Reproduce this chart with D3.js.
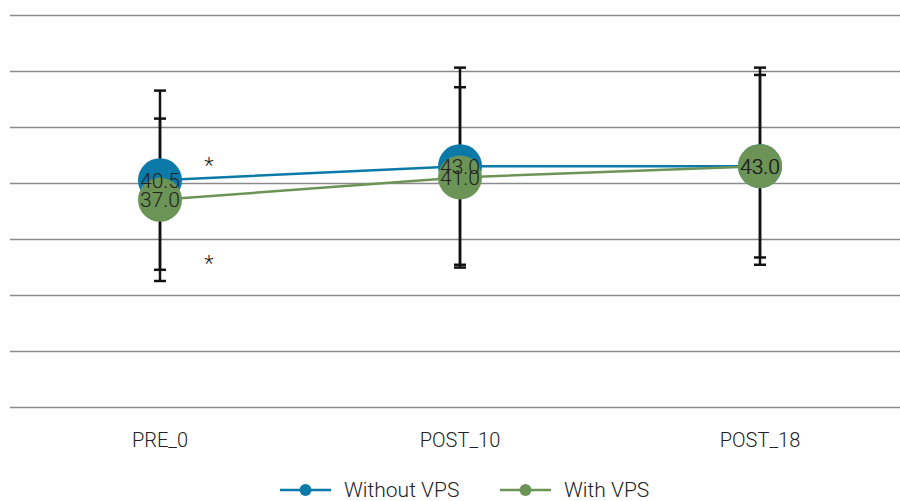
<!DOCTYPE html>
<html lang="en">
<head>
<meta charset="UTF-8">
<title>VPS chart</title>
<style>
    body { margin: 0; background: #fff; }
    svg text { font-family: Roboto, "Noto Sans", sans-serif; font-weight: 300; fill: #222; }
    .grid line { stroke: #8a8a8a; stroke-width: 1.5px; }
    .grid path { display: none; }
    .err { stroke: #111; stroke-width: 2.5px; }
</style>
</head>
<body>
<div id="chart"></div>
<script src="https://cdn.jsdelivr.net/npm/d3@7"></script>
<script>
    var width = 900, height = 501;

    var categories = ["PRE_0", "POST_10", "POST_18"];
    var seriesNames = ["Without VPS", "With VPS"];
    var colors = ["#0b7aa8", "#6c9456"];
    // means and +/- error per time point
    var withoutVps = [40.5, 43.0, 43.0];
    var withoutVpsErr = [16.0, 17.6, 17.6];
    var withVps = [37.0, 41.0, 43.0];
    var withVpsErr = [14.5, 16.1, 16.3];
    var yTicks = [0, 10, 20, 30, 40, 50, 60, 70];
    // significance marks next to PRE_0
    var stars = [{cat: "PRE_0", value: 44.5}, {cat: "PRE_0", value: 27.0}];

    var series = [
        {name: seriesNames[0], color: colors[0], values: withoutVps, err: withoutVpsErr},
        {name: seriesNames[1], color: colors[1], values: withVps, err: withVpsErr}
    ];

    var svg = d3.select("#chart").append("svg")
        .attr("width", width)
        .attr("height", height);

    var x = d3.scalePoint().domain(categories).range([10, 910]).padding(0.5);
    var y = d3.scaleLinear().domain([0, 70]).range([407, 15]);

    // gridlines
    svg.append("g")
        .attr("class", "grid")
        .attr("transform", "translate(10,0)")
        .call(d3.axisLeft(y).tickValues(yTicks).tickSize(-890).tickFormat(""));

    // category labels
    svg.selectAll(".cat")
        .data(categories)
        .enter().append("text")
        .attr("class", "cat")
        .attr("x", function(d) { return x(d); })
        .attr("y", 447)
        .attr("text-anchor", "middle")
        .style("font-size", "20px")
        .text(function(d) { return d; });

    var line = d3.line()
        .x(function(d, i) { return x(categories[i]); })
        .y(function(d) { return y(d); });

    // lines
    svg.selectAll(".serieLine")
        .data(series)
        .enter().append("path")
        .attr("class", "serieLine")
        .attr("fill", "none")
        .attr("stroke", function(d) { return d.color; })
        .attr("stroke-width", 2.5)
        .attr("d", function(d) { return line(d.values); });

    // error bars
    series.forEach(function(s) {
        var g = svg.append("g").attr("class", "err");
        categories.forEach(function(c, i) {
            var cx = x(c), lo = y(s.values[i] - s.err[i]), hi = y(s.values[i] + s.err[i]);
            g.append("line").attr("x1", cx).attr("x2", cx).attr("y1", lo).attr("y2", hi);
            g.append("line").attr("x1", cx - 6).attr("x2", cx + 6).attr("y1", lo).attr("y2", lo);
            g.append("line").attr("x1", cx - 6).attr("x2", cx + 6).attr("y1", hi).attr("y2", hi);
        });
    });

    // circles
    series.forEach(function(s) {
        svg.append("g").selectAll("circle")
            .data(s.values)
            .enter().append("circle")
            .attr("cx", function(d, i) { return x(categories[i]); })
            .attr("cy", function(d) { return y(d); })
            .attr("r", 22)
            .attr("fill", s.color);
    });

    // value labels
    series.forEach(function(s) {
        svg.append("g").selectAll("text")
            .data(s.values)
            .enter().append("text")
            .attr("x", function(d, i) { return x(categories[i]); })
            .attr("y", function(d) { return y(d); })
            .attr("dy", "0.35em")
            .attr("text-anchor", "middle")
            .style("font-size", "21px")
            .text(function(d) { return d.toFixed(1); });
    });

    // asterisks
    svg.selectAll(".star")
        .data(stars)
        .enter().append("text")
        .attr("class", "star")
        .attr("x", function(d) { return x(d.cat) + 49; })
        .attr("y", function(d) { return y(d.value); })
        .attr("dy", "0.7em")
        .attr("text-anchor", "middle")
        .style("font-size", "22px")
        .text("*");

    // legend
    var legend = svg.append("g").attr("transform", "translate(280,490)");
    var item = legend.selectAll(".item")
        .data(series)
        .enter().append("g")
        .attr("class", "item")
        .attr("transform", function(d, i) { return "translate(" + (i * 220) + ",0)"; });
    item.append("line")
        .attr("x1", 0).attr("x2", 51)
        .attr("stroke", function(d) { return d.color; })
        .attr("stroke-width", 2.5);
    item.append("circle")
        .attr("cx", 25.5).attr("r", 6)
        .attr("fill", function(d) { return d.color; });
    item.append("text")
        .attr("x", 64)
        .attr("dy", "0.35em")
        .style("font-size", "21px")
        .text(function(d) { return d.name; });
</script>
</body>
</html>
